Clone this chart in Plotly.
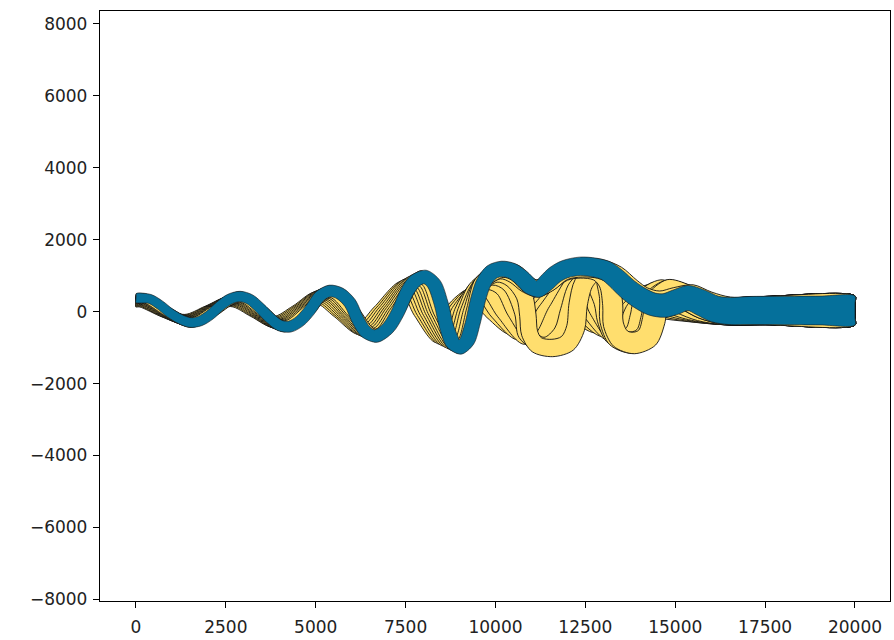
import numpy as np
import plotly.graph_objects as go

# Channel centerlines (metres), oldest first; the last one is the present channel.
ch1_x = [0, 150, 770, 1360, 1970, 2633, 3260, 3820, 4440, 5000, 5610, 6200, 6750, 7400, 7900, 8360, 8780, 9350, 9900, 10450, 11000, 11600, 12200, 12800, 13350, 13950, 14600, 15400, 16400, 17500, 20000]
ch1_y = [258, 248, -25, -211, 20, 286, 0, -286, 20, 391, 0, -462, 0, 663, 0, -670, 0, 460, 0, -430, 0, 470, 30, -330, 0, 330, 150, 70, 10, 30, 32]

ch2_x = [0, 171, 791, 1388, 2002, 2669, 3302, 3866, 4493, 5059, 5674, 6270, 6826, 7481, 7987, 8451, 8872, 9480, 10050, 10620, 11200, 11820, 12420, 13000, 13550, 14120, 14750, 15500, 16400, 17500, 20000]
ch2_y = [276, 265, -27, -225, 22, 305, 0, -305, 22, 417, 0, -493, 0, 707, 0, -714, 0, 560, 0, -560, 0, 620, 50, -430, 0, 390, 180, 70, 10, 30, 32]

ch3_x = [0, 192, 816, 1416, 2034, 2706, 3344, 3912, 4546, 5118, 5739, 6340, 6901, 7562, 8074, 8542, 8965, 9610, 10230, 10800, 11400, 12050, 12650, 13180, 13750, 14280, 14850, 15550, 16400, 17500, 20000]
ch3_y = [293, 281, -28, -239, 23, 324, 0, -323, 23, 443, 0, -524, 0, 751, 0, -758, 0, 680, 0, -680, 0, 780, 50, -540, 0, 440, 220, 80, 10, 30, 32]

ch4_x = [0, 213, 842, 1444, 2067, 2742, 3386, 3959, 4600, 5176, 5803, 6410, 6977, 7644, 8160, 8633, 9057, 9380, 9760, 10200, 10550, 11100, 11700, 12300, 12850, 13350, 13900, 14450, 15000, 15600, 16400, 17500, 20000]
ch4_y = [309, 297, -30, -252, 24, 343, 0, -342, 24, 468, 0, -554, 0, 794, 0, -802, 0, 550, 820, 650, 0, -820, 0, 930, 100, -650, 0, 500, 250, 90, 10, 30, 32]

ch5_x = [0, 232, 865, 1470, 2096, 2776, 3425, 4001, 4649, 5231, 5863, 6475, 7047, 7719, 8241, 8717, 9143, 9450, 9900, 10400, 10750, 10850, 11350, 11850, 12050, 12300, 12600, 13000, 13100, 13300, 13600, 13900, 14050, 14150, 14600, 15150, 15700, 16400, 17500, 20000]
ch5_y = [325, 312, -32, -265, 26, 360, 0, -360, 26, 492, 0, -582, 0, 835, 0, -843, 0, 650, 950, 750, 0, -600, -950, -600, 0, 700, 1050, 300, -200, -650, -780, -600, -150, 300, 560, 300, 100, 10, 30, 32]

ch6_x = [0, 250, 887, 1494, 2124, 2807, 3461, 4041, 4695, 5281, 5918, 6535, 7112, 7789, 8315, 8795, 9222, 9550, 10000, 10450, 10800, 10900, 10950, 11150, 11580, 12000, 12230, 12300, 12450, 12750, 13050, 13170, 13180, 13380, 13780, 14170, 14360, 14470, 14800, 15250, 15750, 16400, 17500, 20000]
ch6_y = [340, 326, -33, -277, 27, 376, 0, -375, 27, 514, 0, -608, 0, 872, 0, -881, 0, 700, 1030, 900, 450, -100, -600, -920, -1010, -880, -450, 200, 780, 1100, 950, 400, -250, -720, -860, -700, -200, 350, 550, 420, 170, 20, 30, 32]

ch7_x = [0, 270, 910, 1520, 2154, 2841, 3500, 4084, 4744, 5336, 5978, 6600, 7182, 7864, 8396, 8880, 9308, 9600, 10080, 10500, 10850, 11150, 11500, 11900, 12350, 12850, 13150, 13260, 13280, 13480, 13850, 14220, 14400, 14500, 14830, 15270, 15780, 16400, 17500, 20000]
ch7_y = [356, 342, -35, -290, 28, 394, 0, -393, 28, 538, 0, -636, 0, 913, 0, -922, 0, 780, 1120, 1020, 760, 640, 820, 1100, 1190, 1120, 800, 200, -350, -750, -870, -720, -250, 300, 560, 420, 160, 20, 30, 32]

ch8_x = [0, 288, 932, 1544, 2182, 2872, 3536, 4124, 4790, 5386, 6033, 6660, 7247, 7934, 8470, 8958, 9387, 9620, 10150, 10550, 10900, 11180, 11500, 11900, 12400, 12900, 13350, 13750, 14100, 14550, 15000, 15450, 15900, 16500, 17500, 20000]
ch8_y = [370, 356, -36, -302, 29, 410, 0, -409, 29, 560, 0, -662, 0, 950, 0, -959, 0, 800, 1160, 1080, 760, 650, 810, 1120, 1220, 1190, 1000, 640, 380, 250, 330, 400, 200, 30, 30, 32]

final_x = [0, 389, 668, 946, 1224, 1502, 1780, 2058, 2336, 2615, 2893, 3171, 3449, 3727, 4006, 4284, 4562, 4840, 5118, 5396, 5674, 5953, 6175, 6398, 6676, 7010, 7288, 7538, 7761, 8039, 8290, 8484, 8651, 8818, 9012, 9207, 9374, 9513, 9680, 9902, 10181, 10459, 10737, 10960, 11182, 11405, 11655, 11933, 12350, 12768, 13073, 13352, 13685, 14019, 14353, 14687, 15021, 15354, 15688, 16105, 16523, 17079, 17913, 19026, 20000]
final_y = [380, 352, 185, -37, -204, -302, -260, -93, 157, 352, 421, 338, 101, -177, -385, -413, -260, 46, 435, 574, 505, 241, -232, -566, -677, -455, -10, 546, 852, 964, 769, 240, -455, -872, -983, -816, -288, 324, 824, 1103, 1186, 1131, 936, 713, 630, 797, 1030, 1180, 1260, 1225, 1140, 930, 620, 380, 213, 171, 268, 380, 268, 74, 18, 32, 32, 32, 32]

# Channel width (m) along the valley
width_x = [0, 5000, 9000, 11000, 13000, 15000, 17000, 20000]
width_m = [250, 320, 400, 460, 540, 680, 780, 810]

x_ticks = [0, 2500, 5000, 7500, 10000, 12500, 15000, 17500, 20000]
x_labels = ["0", "2500", "5000", "7500", "10000", "12500", "15000", "17500", "20000"]
y_ticks = [-8000, -6000, -4000, -2000, 0, 2000, 4000, 6000, 8000]
y_labels = ["\u22128000", "\u22126000", "\u22124000", "\u22122000", "0", "2000", "4000", "6000", "8000"]

OLD_FILL = "#FFDE6E"
NEW_FILL = "#05709B"


def channel_outline(cx, cy):
    """Bank polygon of a channel: centerline offset by half the width on both
    sides, with straight end caps."""
    cx = np.asarray(cx, float)
    cy = np.asarray(cy, float)
    half = np.interp(cx, width_x, width_m) / 2.0
    tx, ty = np.gradient(cx), np.gradient(cy)
    norm = np.hypot(tx, ty)
    nx, ny = -ty / norm, tx / norm
    lx, ly = cx + nx * half, cy + ny * half
    rx, ry = cx - nx * half, cy - ny * half
    t = np.array([0.25, 0.5, 0.75])
    cap_end_x = lx[-1] + (rx[-1] - lx[-1]) * t
    cap_end_y = ly[-1] + (ry[-1] - ly[-1]) * t
    cap_start_x = rx[0] + (lx[0] - rx[0]) * t
    cap_start_y = ry[0] + (ly[0] - ry[0]) * t
    px = np.concatenate([lx, cap_end_x, rx[::-1], cap_start_x, lx[:1]])
    py = np.concatenate([ly, cap_end_y, ry[::-1], cap_start_y, ly[:1]])
    return px, py


fig = go.Figure()

old_channels = [(ch1_x, ch1_y), (ch2_x, ch2_y), (ch3_x, ch3_y), (ch4_x, ch4_y),
                (ch5_x, ch5_y), (ch6_x, ch6_y), (ch7_x, ch7_y), (ch8_x, ch8_y)]
for cx, cy in old_channels:
    px, py = channel_outline(cx, cy)
    fig.add_trace(go.Scatter(
        x=px, y=py, mode="lines", fill="toself", fillcolor=OLD_FILL,
        line=dict(color="#111111", width=0.9, shape="spline", smoothing=0.9),
        hoverinfo="skip", showlegend=False))

px, py = channel_outline(final_x, final_y)
fig.add_trace(go.Scatter(
    x=px, y=py, mode="lines", fill="toself", fillcolor=NEW_FILL,
    line=dict(color="#1a1a1a", width=0.6, shape="spline", smoothing=0.9),
    hoverinfo="skip", showlegend=False))

axis_style = dict(
    showgrid=False, zeroline=False, showline=True, mirror=True,
    linecolor="black", linewidth=1.3, ticks="outside", ticklen=6,
    tickwidth=1.3, tickcolor="black",
    tickfont=dict(family="DejaVu Sans", size=17, color="#222222"),
)

fig.update_layout(
    width=894, height=640,
    margin=dict(l=100, r=4, t=11, b=39),
    paper_bgcolor="white", plot_bgcolor="white",
    xaxis=dict(range=[-1001, 20974], tickvals=x_ticks, ticktext=x_labels,
               ticklabelstandoff=4, **axis_style),
    yaxis=dict(range=[-8046, 8361], tickvals=y_ticks, ticktext=y_labels,
               ticklabelstandoff=2, **axis_style),
)

fig.write_html("out.html")
